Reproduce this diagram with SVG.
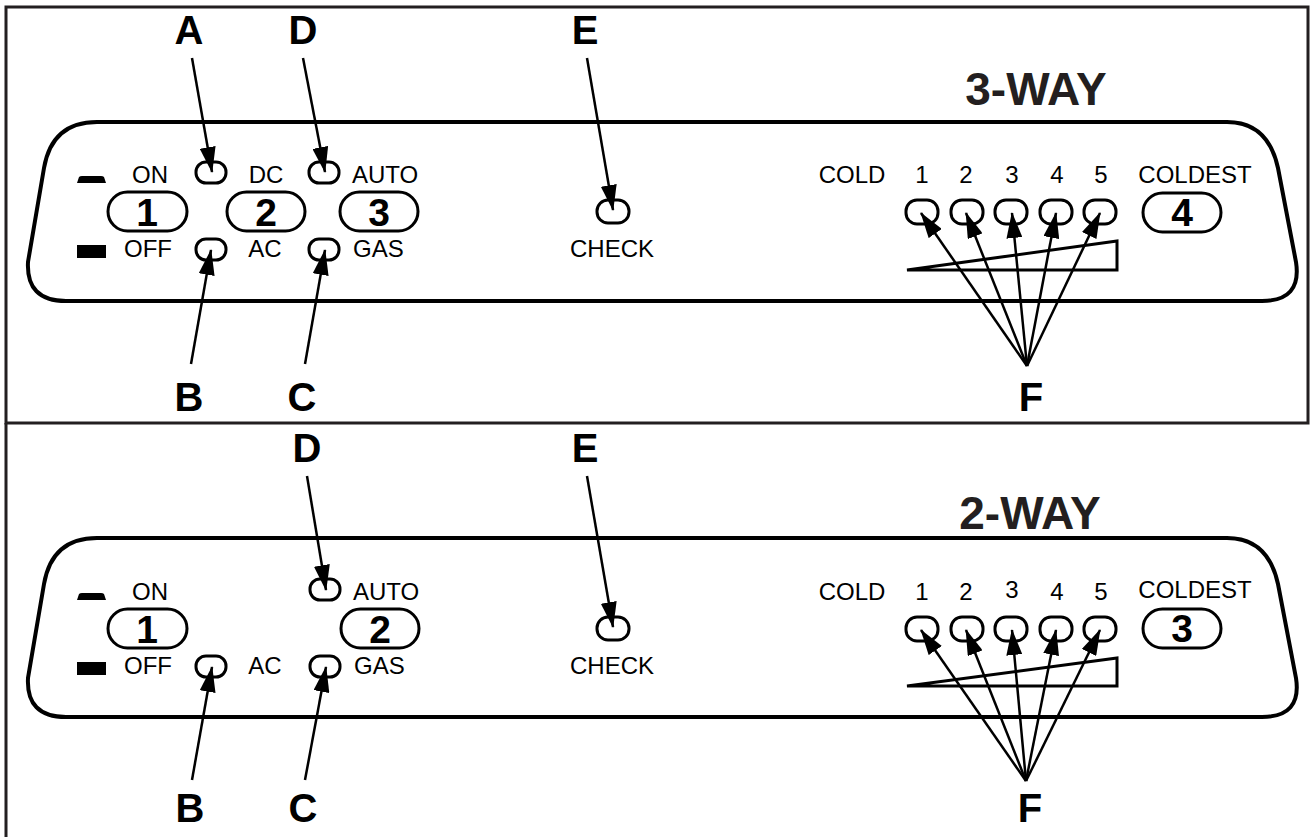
<svg xmlns="http://www.w3.org/2000/svg" width="1310" height="837" viewBox="0 0 1310 837">
<defs>
<style>
.frame{fill:none;stroke:#231f20;stroke-width:3}
.panel{fill:none;stroke:#000;stroke-width:4}
.led{fill:#fff;stroke:#000;stroke-width:3}
.pill{fill:#fff;stroke:#000;stroke-width:3}
.lbl{font-family:"Liberation Sans",Arial,sans-serif;font-size:24px;fill:#000}
.dig{font-family:"Liberation Sans",Arial,sans-serif;font-size:39px;font-weight:bold;fill:#000;text-anchor:middle}
.big{font-family:"Liberation Sans",Arial,sans-serif;font-size:40px;font-weight:bold;fill:#000;text-anchor:middle}
.title{font-family:"Liberation Sans",Arial,sans-serif;font-size:46px;font-weight:bold;fill:#231f20;text-anchor:middle}
.arr{stroke:#000;stroke-width:2.5;fill:none;marker-end:url(#ah)}
.mc{text-anchor:middle}
</style>
<marker id="ah" viewBox="0 0 26 16" refX="25" refY="8" markerWidth="26" markerHeight="16" markerUnits="userSpaceOnUse" orient="auto">
<path d="M0,0 L26,8 L0,16 Z" fill="#000"/>
</marker>
</defs>
<rect width="1310" height="837" fill="#fff"/>
<g id="frame">
<rect class="frame" x="6" y="7" width="1302" height="416"/>
<line class="frame" x1="6" y1="423" x2="6" y2="837"/>
</g>

<g id="panel-3way">
<path class="panel" d="M97,122 H1227 Q1268,122 1278,168 L1296,262 Q1302,301 1262,301 H66 Q26,301 28,262 L44,168 Q52,122 97,122 Z"/>
<text class="title" x="1036" y="105">3-WAY</text>
<g id="sw1-top">
<path d="M77,183 L79,177 Q80,176 82,176 H101 Q103,176 104,177 L106,183 Z" fill="#000"/>
<rect x="77" y="245" width="29" height="13" fill="#000"/>
<text class="lbl mc" x="150" y="183">ON</text>
<text class="lbl mc" x="148" y="257">OFF</text>
<rect class="pill" x="108" y="192" width="79" height="39" rx="19.5"/>
<text class="dig" x="147" y="226">1</text>
</g>
<g id="sw2-top">
<rect class="pill" x="227" y="192" width="78" height="39" rx="19.5"/>
<text class="dig" x="266" y="226">2</text>
<text class="lbl mc" x="266" y="183">DC</text>
<text class="lbl mc" x="265" y="257">AC</text>
</g>
<g id="sw3-top">
<rect class="pill" x="340" y="192" width="78" height="39" rx="19.5"/>
<text class="dig" x="379" y="226">3</text>
<text class="lbl" x="352" y="183">AUTO</text>
<text class="lbl" x="353" y="257">GAS</text>
</g>
<g id="led-a-top"><rect class="led" x="196" y="162" width="30" height="21" rx="10"/></g>
<g id="led-d-top"><rect class="led" x="309" y="162" width="30" height="21" rx="10"/></g>
<g id="led-b-top"><rect class="led" x="196" y="239" width="30" height="21" rx="10"/></g>
<g id="led-c-top"><rect class="led" x="309" y="239" width="30" height="21" rx="10"/></g>
<g id="led-e-top">
<rect class="led" x="597" y="200" width="32" height="23" rx="11"/>
<text class="lbl mc" x="612" y="257">CHECK</text>
</g>
<g id="temp-top">
<text class="lbl mc" x="852" y="183">COLD</text>
<text class="lbl mc" x="922" y="183">1</text>
<text class="lbl mc" x="966" y="183">2</text>
<text class="lbl mc" x="1012" y="183">3</text>
<text class="lbl mc" x="1057" y="183">4</text>
<text class="lbl mc" x="1101" y="183">5</text>
<text class="lbl mc" x="1195" y="183">COLDEST</text>
<rect class="led" x="906" y="200" width="32" height="24" rx="11"/>
<rect class="led" x="951" y="200" width="32" height="24" rx="11"/>
<rect class="led" x="995" y="200" width="32" height="24" rx="11"/>
<rect class="led" x="1040" y="200" width="32" height="24" rx="11"/>
<rect class="led" x="1084" y="200" width="32" height="24" rx="11"/>
<path d="M907,270 L1117,241 V270 Z" fill="none" stroke="#000" stroke-width="3"/>
<rect class="pill" x="1143" y="193" width="78" height="39" rx="19.5"/>
<text class="dig" x="1182" y="226">4</text>
</g>
<g id="labels-top">
<text class="big" x="189" y="44">A</text>
<text class="big" x="303" y="44">D</text>
<text class="big" x="585" y="44">E</text>
<text class="big" x="189" y="411">B</text>
<text class="big" x="302" y="411">C</text>
<text class="big" x="1031" y="411">F</text>
</g>
</g>

<g id="panel-2way">
<path class="panel" d="M97,538 H1227 Q1268,538 1278,584 L1296,678 Q1302,717 1262,717 H66 Q26,717 28,678 L44,584 Q52,538 97,538 Z"/>
<text class="title" x="1030" y="529">2-WAY</text>
<g id="sw1-bot">
<path d="M77,600 L79,594 Q80,593 82,593 H101 Q103,593 104,594 L106,600 Z" fill="#000"/>
<rect x="77" y="662" width="29" height="13" fill="#000"/>
<text class="lbl mc" x="150" y="600">ON</text>
<text class="lbl mc" x="148" y="674">OFF</text>
<rect class="pill" x="108" y="609" width="79" height="39" rx="19.5"/>
<text class="dig" x="147" y="643">1</text>
</g>
<g id="sw2-bot">
<rect class="pill" x="341" y="609" width="78" height="39" rx="19.5"/>
<text class="dig" x="380" y="643">2</text>
<text class="lbl" x="353" y="600">AUTO</text>
<text class="lbl" x="354" y="674">GAS</text>
<text class="lbl mc" x="265" y="674">AC</text>
</g>
<g id="led-d-bot"><rect class="led" x="310" y="579" width="30" height="21" rx="10"/></g>
<g id="led-b-bot"><rect class="led" x="196" y="656" width="30" height="21" rx="10"/></g>
<g id="led-c-bot"><rect class="led" x="310" y="656" width="30" height="21" rx="10"/></g>
<g id="led-e-bot">
<rect class="led" x="597" y="617" width="32" height="23" rx="11"/>
<text class="lbl mc" x="612" y="674">CHECK</text>
</g>
<g id="temp-bot">
<text class="lbl mc" x="852" y="600">COLD</text>
<text class="lbl mc" x="922" y="600">1</text>
<text class="lbl mc" x="966" y="600">2</text>
<text class="lbl mc" x="1012" y="598">3</text>
<text class="lbl mc" x="1057" y="600">4</text>
<text class="lbl mc" x="1101" y="600">5</text>
<text class="lbl mc" x="1195" y="598">COLDEST</text>
<rect class="led" x="906" y="617" width="32" height="24" rx="11"/>
<rect class="led" x="951" y="617" width="32" height="24" rx="11"/>
<rect class="led" x="995" y="617" width="32" height="24" rx="11"/>
<rect class="led" x="1040" y="617" width="32" height="24" rx="11"/>
<rect class="led" x="1084" y="617" width="32" height="24" rx="11"/>
<path d="M907,686 L1117,658 V686 Z" fill="none" stroke="#000" stroke-width="3"/>
<rect class="pill" x="1143" y="609" width="78" height="39" rx="19.5"/>
<text class="dig" x="1182" y="642">3</text>
</g>
<g id="labels-bot">
<text class="big" x="307" y="462">D</text>
<text class="big" x="585" y="462">E</text>
<text class="big" x="190" y="822">B</text>
<text class="big" x="303" y="822">C</text>
<text class="big" x="1030" y="822">F</text>
</g>
</g>

<g id="connectors">
<line class="arr" x1="192" y1="58" x2="212" y2="172"/>
<line class="arr" x1="303" y1="58" x2="325" y2="172"/>
<line class="arr" x1="191" y1="364" x2="211" y2="250"/>
<line class="arr" x1="305" y1="364" x2="325" y2="250"/>
<line class="arr" x1="587" y1="58" x2="613" y2="210"/>
<line class="arr" x1="1027" y1="366" x2="921" y2="213"/>
<line class="arr" x1="1027" y1="366" x2="966" y2="213"/>
<line class="arr" x1="1027" y1="366" x2="1012" y2="213"/>
<line class="arr" x1="1027" y1="366" x2="1056" y2="213"/>
<line class="arr" x1="1027" y1="366" x2="1100" y2="213"/>
<line class="arr" x1="307" y1="476" x2="326" y2="590"/>
<line class="arr" x1="587" y1="476" x2="613" y2="627"/>
<line class="arr" x1="192" y1="780" x2="212" y2="667"/>
<line class="arr" x1="305" y1="780" x2="326" y2="667"/>
<line class="arr" x1="1026" y1="781" x2="921" y2="630"/>
<line class="arr" x1="1026" y1="781" x2="966" y2="630"/>
<line class="arr" x1="1026" y1="781" x2="1012" y2="630"/>
<line class="arr" x1="1026" y1="781" x2="1056" y2="630"/>
<line class="arr" x1="1026" y1="781" x2="1100" y2="630"/>
</g>
</svg>
